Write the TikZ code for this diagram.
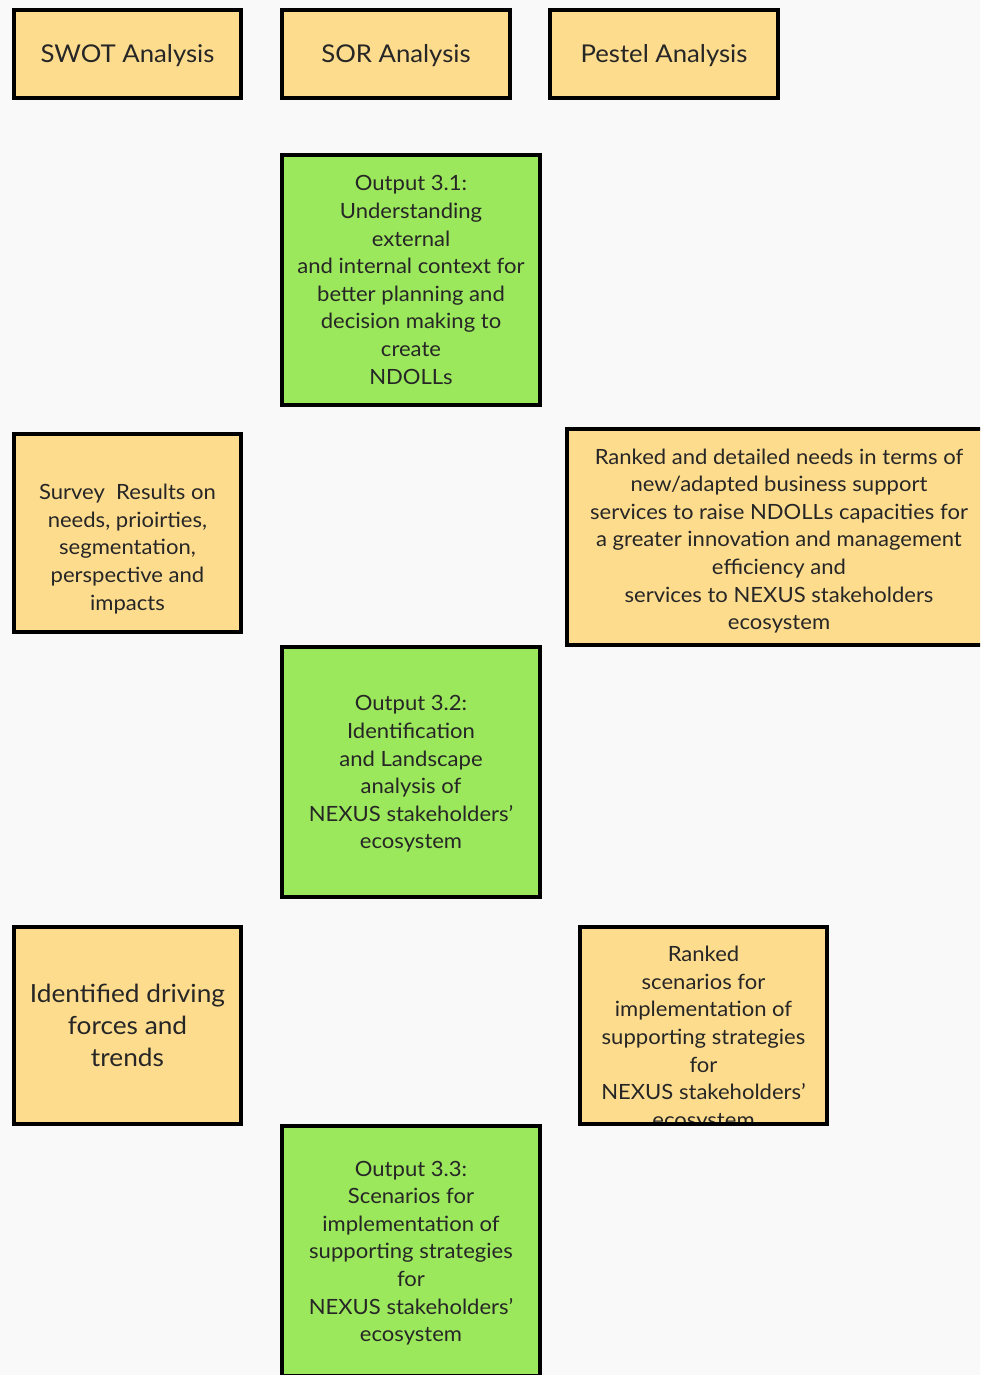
\documentclass[tikz,border=0pt]{standalone}
\usepackage{fontspec}
\setmainfont{Lato}[FakeStretch=1.05]
\definecolor{bg}{HTML}{F9F9FA}
\definecolor{boxyellow}{HTML}{FDDC8E}
\definecolor{boxgreen}{HTML}{9CE85C}
\definecolor{txtcol}{HTML}{262626}
\tikzset{
  box/.style={draw=black, line width=4pt, inner sep=0pt},
  ybox/.style={box, fill=boxyellow},
  gbox/.style={box, fill=boxgreen},
  txt/.style={inner sep=0pt, align=center, text=txtcol},
  bodyfont/.style={txt, font=\fontsize{21}{27.6}\selectfont},
  titlefont/.style={txt, font=\fontsize{24.5}{28}\selectfont},
  bigfont/.style={txt, font=\fontsize{25}{32}\selectfont},
}
\begin{document}
\begin{tikzpicture}[x=1pt,y=-1pt]
\useasboundingbox (0,0) rectangle (980,1375);
\clip (0,0) rectangle (980,1375);
\fill[bg] (0,0) rectangle (980,1375);

\node[ybox, minimum width=227pt, minimum height=88pt] (swot) at (127.5,54) {};
\node[titlefont] (swottext) at (127.5,56) {SWOT Analysis};
\node[ybox, minimum width=228pt, minimum height=88pt] (sor) at (396,54) {};
\node[titlefont] (sortext) at (396,56) {SOR Analysis};
\node[ybox, minimum width=228pt, minimum height=88pt] (pestel) at (664,54) {};
\node[titlefont] (pesteltext) at (664,56) {Pestel Analysis};

\node[gbox, minimum width=258pt, minimum height=250pt] (out31) at (411,280) {};
\node[bodyfont] (out31text) at (411,280)
  {Output 3.1:\\Understanding\\external\\and internal context for\\better planning and\\decision making to\\create\\NDOLLs};

\node[ybox, minimum width=227pt, minimum height=198pt] (survey) at (127.5,533) {};
\node[bodyfont] (surveytext) at (127.5,549)
  {Survey\ \ Results on\\needs, prioirties,\\segmentation,\\perspective and\\impacts};

\node[ybox, minimum width=424pt, minimum height=216pt] (needs) at (779,537) {};
\node[bodyfont] (needstext) at (779,541)
  {Ranked and detailed needs in terms of\\new/adapted business support\\services to raise NDOLLs capacities for\\a greater innovation and management\\efficiency and\\services to NEXUS stakeholders\\ecosystem};

\node[gbox, minimum width=258pt, minimum height=250pt] (out32) at (411,772) {};
\node[bodyfont] (out32text) at (411,774)
  {Output 3.2:\\Identification\\and Landscape\\analysis of\\NEXUS stakeholders'\\ecosystem};

\node[ybox, minimum width=227pt, minimum height=197pt] (driving) at (127.5,1025.5) {};
\node[bigfont] (drivingtext) at (127.5,1025)
  {Identified driving\\forces and\\trends};

\node[fill=boxyellow, inner sep=0pt, minimum width=247pt, minimum height=197pt] (ranked) at (703.5,1025.5) {};
\begin{scope}
  \clip (ranked.north west) rectangle (ranked.south east);
  \node[bodyfont] (rankedtext) at (703.5,1038.5)
    {Ranked\\scenarios for\\implementation of\\supporting strategies\\for\\NEXUS stakeholders'\\ecosystem};
\end{scope}
\draw[black, line width=4pt] (ranked.north west) rectangle (ranked.south east);

\node[gbox, minimum width=258pt, minimum height=250pt] (out33) at (411,1251) {};
\node[bodyfont] (out33text) at (411,1253)
  {Output 3.3:\\Scenarios for\\implementation of\\supporting strategies\\for\\NEXUS stakeholders'\\ecosystem};
\end{tikzpicture}
\end{document}
